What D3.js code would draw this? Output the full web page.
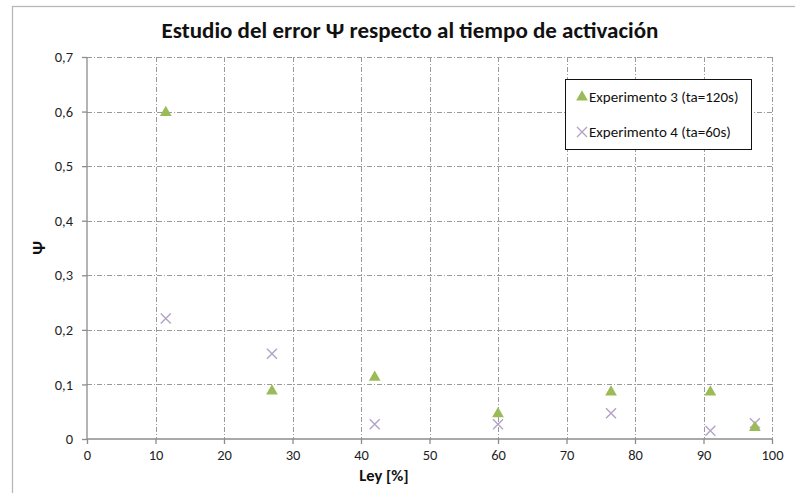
<!DOCTYPE html>
<html>
<head>
<meta charset="utf-8">
<script src="https://cdn.jsdelivr.net/npm/d3@7"></script>
<style>
  body { margin: 0; background: #fff; }
  svg { display: block; font-family: Carlito, Calibri, Lato, "Open Sans", sans-serif; }
</style>
</head>
<body>
<svg id="chart" width="795" height="493"></svg>
<script>
const title = "Estudio del error Ψ respecto al tiempo de activación";
const xLabel = "Ley [%]";
const yLabel = "Ψ";
const seriesNames = ["Experimento 3 (ta=120s)", "Experimento 4 (ta=60s)"];
const leyValues = [11.5, 27, 42, 60, 76.5, 91, 97.5];
const exp3Values = [0.598, 0.088, 0.113, 0.046, 0.086, 0.086, 0.021];
const exp4Values = [0.221, 0.156, 0.027, 0.027, 0.047, 0.015, 0.029];
const xTicks = [0, 10, 20, 30, 40, 50, 60, 70, 80, 90, 100];
const yTicks = [0, 0.1, 0.2, 0.3, 0.4, 0.5, 0.6, 0.7];

const svg = d3.select("#chart");
const margin = { left: 87, right: 795 - 772, top: 57, bottom: 493 - 439 };
const W = 795, H = 493;
const x = d3.scaleLinear().domain([0, 100]).range([margin.left, W - margin.right]);
const y = d3.scaleLinear().domain([0, 0.7]).range([H - margin.bottom, margin.top]);
const fmt = d => d3.format(".1f")(d).replace(".", ",").replace(/^0,0$/, "0");

// outer chart border
svg.append("rect").attr("x", 12.5).attr("y", 6.5).attr("width", 800).attr("height", 500)
  .attr("fill", "none").attr("stroke", "#b8b8b8").attr("stroke-width", 1.3);

// gridlines
const grid = svg.append("g").attr("stroke", "#9a9a9a").attr("stroke-width", 1)
  .attr("stroke-dasharray", "5,2,1,2").attr("fill", "none");
grid.selectAll(".gx").data(xTicks.filter(d => d > 0)).join("line")
  .attr("x1", d => Math.round(x(d)) + 0.5).attr("x2", d => Math.round(x(d)) + 0.5)
  .attr("y1", y(0.7)).attr("y2", y(0));
grid.selectAll(".gy").data(yTicks.filter(d => d > 0)).join("line")
  .attr("y1", d => Math.round(y(d)) + 0.5).attr("y2", d => Math.round(y(d)) + 0.5)
  .attr("x1", x(0)).attr("x2", x(100));

// axes
const xAxis = d3.axisBottom(x).tickValues(xTicks).tickSize(5).tickPadding(6).tickFormat(d3.format("d"));
const yAxis = d3.axisLeft(y).tickValues(yTicks).tickSize(5).tickPadding(9).tickFormat(fmt);
const gx = svg.append("g").attr("transform", `translate(0,${y(0)})`).call(xAxis);
const gy = svg.append("g").attr("transform", `translate(${x(0)},0)`).call(yAxis);
[gx, gy].forEach(g => {
  g.select(".domain").attr("stroke", "#8c8c8c").attr("stroke-width", 1.3);
  g.selectAll(".tick line").attr("stroke", "#8c8c8c").attr("stroke-width", 1.3);
  g.selectAll(".tick text").attr("fill", "#1f1f1f").attr("font-size", 14.5)
    .attr("font-family", "Carlito, Calibri, Lato, sans-serif");
});
gx.select(".domain").attr("d", `M${x(0)},0H${x(100)}`);
gy.select(".domain").attr("d", `M0,${y(0)}V${y(0.7)}`);
gx.selectAll(".tick line").attr("y1", 0);

// titles
svg.append("text").attr("x", 410).attr("y", 38).attr("text-anchor", "middle")
  .attr("font-size", 23).attr("font-weight", "bold").attr("fill", "#111").text(title);
svg.append("text").attr("x", 384).attr("y", 481).attr("text-anchor", "middle")
  .attr("font-size", 16.5).attr("font-weight", "bold").attr("fill", "#111").text(xLabel);
svg.append("text").attr("transform", "translate(45,248) rotate(-90)").attr("text-anchor", "middle")
  .attr("font-size", 17).attr("font-weight", "bold").attr("fill", "#111").text(yLabel);

// markers
const tri = d3.symbol().type(d3.symbolTriangle).size(60);
const green = "#9bbb59", purple = "#b3a2c7";
const pts3 = leyValues.map((v, i) => ({ x: v, y: exp3Values[i] }));
const pts4 = leyValues.map((v, i) => ({ x: v, y: exp4Values[i] }));
svg.append("g").selectAll("path").data(pts4).join("path")
  .attr("transform", d => `translate(${x(d.x)},${y(d.y)})`)
  .attr("d", "M-5,-5L5,5M-5,5L5,-5").attr("stroke", purple).attr("stroke-width", 1.4).attr("fill", "none");
svg.append("g").selectAll("path").data(pts3).join("path")
  .attr("transform", d => `translate(${x(d.x)},${y(d.y)})`)
  .attr("d", tri).attr("fill", green);

// legend
const lg = svg.append("g");
lg.append("rect").attr("x", 565.5).attr("y", 79.5).attr("width", 186).attr("height", 70)
  .attr("fill", "#fff").attr("stroke", "#111").attr("stroke-width", 1);
const legendRows = [
  { name: seriesNames[0], yy: 97, kind: "tri" },
  { name: seriesNames[1], yy: 132, kind: "x" }
];
legendRows.forEach(r => {
  if (r.kind === "tri") {
    lg.append("path").attr("transform", `translate(582,${r.yy})`).attr("d", tri).attr("fill", green);
  } else {
    lg.append("path").attr("transform", `translate(582,${r.yy})`)
      .attr("d", "M-5,-5L5,5M-5,5L5,-5").attr("stroke", purple).attr("stroke-width", 1.4).attr("fill", "none");
  }
  lg.append("text").attr("x", 589).attr("y", r.yy + 5).attr("font-size", 15).attr("fill", "#111").text(r.name);
});
</script>
</body>
</html>
